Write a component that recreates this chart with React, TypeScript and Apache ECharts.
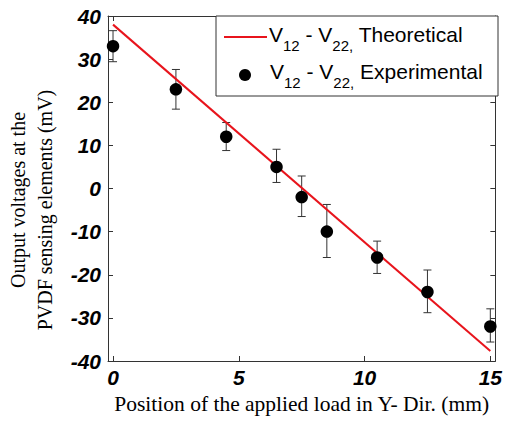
import React, { useEffect, useRef } from "react";
import * as echarts from "echarts";

const positions = [0, 2.5, 4.5, 6.5, 7.5, 8.5, 10.5, 12.5, 15];
const measured = [33, 23, 12, 5, -2, -10, -16, -24, -32];
const errUpper = [36.6, 27.6, 15.3, 9.1, 2.9, -3.7, -12.2, -18.9, -27.9];
const errLower = [29.4, 18.4, 8.8, 1.4, -6.5, -16, -19.7, -28.8, -35.6];
const theoryX = [0, 15];
const theoryY = [38, -37.7];
const xTicks = [0, 5, 10, 15];

const labelFont = { fontFamily: "Liberation Sans", fontWeight: "bold" as const, fontStyle: "italic" as const, fontSize: 21, color: "#000" };

export default function App() {
  const ref = useRef<HTMLDivElement>(null);
  useEffect(() => {
    document.body.style.margin = "0";
    const chart = echarts.init(ref.current!, null, { renderer: "svg" });
    const axisLine = { show: true, onZero: false, lineStyle: { color: "#333", width: 1 } };
    const tick = { show: true, inside: true, length: 5, lineStyle: { color: "#333" } };
    const rich = {
      n: { fontFamily: "Liberation Sans", fontSize: 21, lineHeight: 21, color: "#000" },
      s: { fontFamily: "Liberation Sans", fontSize: 15, lineHeight: 15, padding: [22, 0, 0, 0], color: "#000" },
    };
    chart.setOption({
      animation: false,
      grid: { left: 108, right: 7, top: 16, bottom: 60, containLabel: false },
      xAxis: [
        {
          type: "value", min: -0.2, max: 15.2, position: "bottom",
          axisLine, axisTick: { ...tick, customValues: xTicks },
          axisLabel: { ...labelFont, margin: 6, customValues: xTicks, formatter: (v: number) => String(v) },
          splitLine: { show: false },
          name: "Position of the applied load in Y- Dir. (mm)", nameLocation: "middle", nameGap: 24,
          nameTextStyle: { fontFamily: "Liberation Serif", fontSize: 21.5, color: "#000", verticalAlign: "top" },
        },
        {
          type: "value", min: -0.2, max: 15.2, position: "top",
          axisLine, axisTick: { ...tick, customValues: xTicks }, axisLabel: { show: false }, splitLine: { show: false },
        },
      ],
      yAxis: [
        {
          type: "value", min: -40, max: 40, interval: 10, position: "left",
          axisLine, axisTick: tick, axisLabel: { ...labelFont, margin: 7 }, splitLine: { show: false },
        },
        {
          type: "value", min: -40, max: 40, interval: 10, position: "right",
          axisLine, axisTick: tick, axisLabel: { show: false }, splitLine: { show: false },
        },
      ],
      series: [
        {
          type: "line", name: "Theoretical", data: theoryX.map((x, i) => [x, theoryY[i]]),
          symbol: "none", lineStyle: { color: "#e8141c", width: 2 }, z: 3,
        },
        {
          type: "custom", name: "err", data: positions.map((x, i) => [x, errLower[i], errUpper[i]]), z: 2,
          renderItem: (params: any, api: any) => {
            const x = api.value(0);
            const pLo = api.coord([x, api.value(1)]);
            const pHi = api.coord([x, api.value(2)]);
            const cap = 4;
            const st = { stroke: "#333", lineWidth: 1 };
            return {
              type: "group",
              children: [
                { type: "line", shape: { x1: pLo[0], y1: pLo[1], x2: pHi[0], y2: pHi[1] }, style: st },
                { type: "line", shape: { x1: pLo[0] - cap, y1: pLo[1], x2: pLo[0] + cap, y2: pLo[1] }, style: st },
                { type: "line", shape: { x1: pHi[0] - cap, y1: pHi[1], x2: pHi[0] + cap, y2: pHi[1] }, style: st },
              ],
            };
          },
        },
        {
          type: "scatter", name: "Experimental", data: positions.map((x, i) => [x, measured[i]]),
          symbol: "circle", symbolSize: 12.5, itemStyle: { color: "#000", opacity: 1 }, z: 4,
        },
      ],
      graphic: [
        { type: "rect", shape: { x: 216, y: 16, width: 282, height: 80 }, style: { fill: "#fff", stroke: "#333", lineWidth: 1 }, z: 100 },
        { type: "line", shape: { x1: 224, y1: 37, x2: 267, y2: 37 }, style: { stroke: "#e8141c", lineWidth: 2 }, z: 101 },
        { type: "circle", shape: { cx: 245, cy: 75, r: 6 }, style: { fill: "#000" }, z: 101 },
        {
          type: "text", x: 269, y: 34.5, z: 101,
          style: { text: "{n|V}{s|12}{n| - V}{s|22,}{n| Theoretical}", rich, verticalAlign: "middle", align: "left" },
        },
        {
          type: "text", x: 270, y: 71, z: 101,
          style: { text: "{n|V}{s|12}{n| - V}{s|22,}{n| Experimental}", rich, verticalAlign: "middle", align: "left" },
        },
        {
          type: "text", x: 18, y: 200, rotation: Math.PI / 2, z: 101,
          style: { text: "Output voltages at the", fontFamily: "Liberation Serif", fontSize: 20, fill: "#000", align: "center", verticalAlign: "middle" },
        },
        {
          type: "text", x: 45, y: 210, rotation: Math.PI / 2, z: 101,
          style: { text: "PVDF sensing elements (mV)", fontFamily: "Liberation Serif", fontSize: 20, fill: "#000", align: "center", verticalAlign: "middle" },
        },
      ],
    });
    return () => chart.dispose();
  }, []);
  return <div ref={ref} style={{ width: 505, height: 421 }} />;
}
